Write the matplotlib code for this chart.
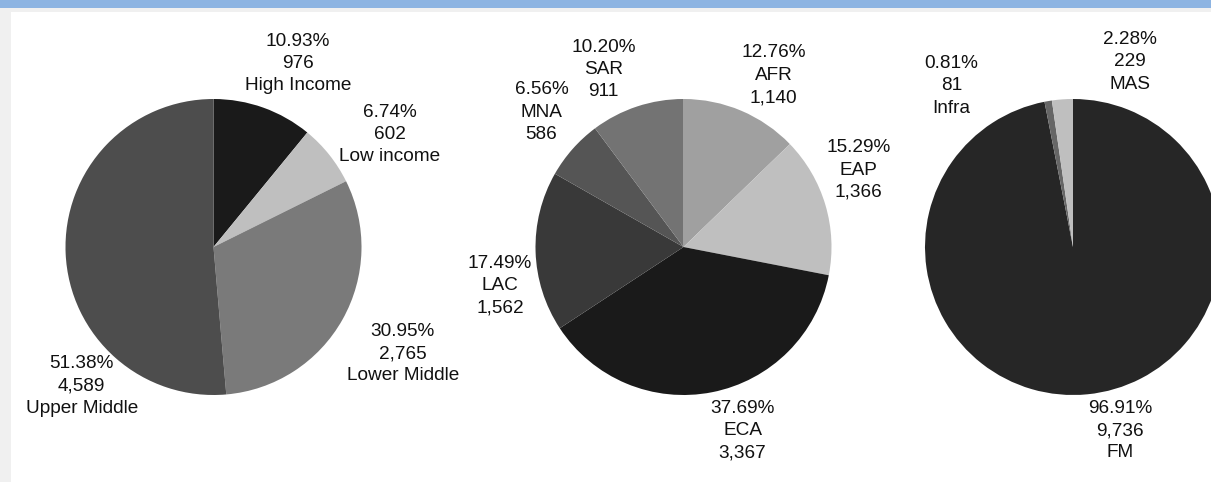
import matplotlib
matplotlib.use("Agg")
import matplotlib.pyplot as plt
from matplotlib.patches import Rectangle

# ---- data ----
income_names = ["High Income", "Low income", "Lower Middle", "Upper Middle"]
income_counts = [976, 602, 2765, 4589]
income_pct = [10.93, 6.74, 30.95, 51.38]

region_names = ["AFR", "EAP", "ECA", "LAC", "MNA", "SAR"]
region_counts = [1140, 1366, 3367, 1562, 586, 911]
region_pct = [12.76, 15.29, 37.69, 17.49, 6.56, 10.20]

sector_names = ["FM", "Infra", "MAS"]
sector_counts = [9736, 81, 229]
sector_pct = [96.91, 0.81, 2.28]

# ---- styles ----
income_colors = ["#1a1a1a", "#bfbfbf", "#7a7a7a", "#4d4d4d"]
region_colors = ["#a0a0a0", "#bfbfbf", "#1a1a1a", "#393939", "#555555", "#737373"]
sector_colors = ["#262626", "#666666", "#bfbfbf"]

# label positions (in pie-radius units)
income_label_pos = [(0.57, 1.24), (1.19, 0.76), (1.28, -0.72), (-0.89, -0.94)]
region_label_pos = [(0.61, 1.16), (1.18, 0.52), (0.40, -1.24), (-1.24, -0.26),
                    (-0.96, 0.91), (-0.54, 1.20)]
sector_label_pos = [(0.32, -1.24), (-0.82, 1.09), (0.385, 1.25)]

W, H = 1211, 482
DPI = 100
fig = plt.figure(figsize=(W / DPI, H / DPI), dpi=DPI)
fig.patch.set_facecolor("#f0f0f0")

# background panels (figure pixel coords -> fraction)
def px_rect(x0, y0, x1, y1, color):
    fig.patches.append(Rectangle((x0 / W, 1 - y1 / H), (x1 - x0) / W, (y1 - y0) / H,
                                 transform=fig.transFigure, facecolor=color,
                                 edgecolor="none", zorder=-10))

px_rect(11, 12, W, H, "white")
px_rect(0, 0, W, 8, "#8db4e2")

R = 148.0

def make_pie(cx, cy, values, colors, labels_text, label_pos):
    ax = fig.add_axes([(cx - R) / W, 1 - (cy + R) / H, 2 * R / W, 2 * R / H])
    ax.pie(values, colors=colors, startangle=90, counterclock=False,
           radius=1.0, wedgeprops=dict(linewidth=0, edgecolor="none"))
    ax.set_xlim(-1, 1)
    ax.set_ylim(-1, 1)
    ax.set_aspect("equal")
    ax.axis("off")
    for txt, (lx, ly) in zip(labels_text, label_pos):
        ax.text(lx, ly, txt, ha="center", va="center", multialignment="center",
                fontsize=13.7, family=["Liberation Sans", "DejaVu Sans"],
                color="#111111", linespacing=1.41, clip_on=False)
    return ax

def make_labels(names, counts, pcts, order="pvn"):
    out = []
    for n, c, p in zip(names, counts, pcts):
        ps = f"{p:.2f}%"
        v = f"{c:,}"
        out.append(f"{ps}\n{v}\n{n}" if order == "pvn" else f"{ps}\n{n}\n{v}")
    return out

make_pie(213.5, 247, income_counts, income_colors,
         make_labels(income_names, income_counts, income_pct, "pvn"), income_label_pos)
make_pie(683.5, 247, region_counts, region_colors,
         make_labels(region_names, region_counts, region_pct, "pnv"), region_label_pos)
make_pie(1073, 247, sector_counts, sector_colors,
         make_labels(sector_names, sector_counts, sector_pct, "pvn"), sector_label_pos)

fig.savefig("out.png", dpi=DPI, facecolor=fig.get_facecolor())
